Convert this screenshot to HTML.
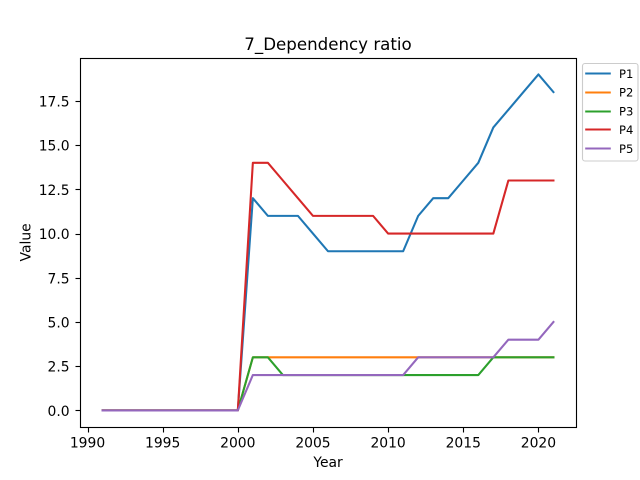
<!DOCTYPE html>
<html>
<head>
<meta charset="utf-8">
<title>7_Dependency ratio</title>
<style>
html,body{margin:0;padding:0;background:#fff;}
svg{display:block;}
text{font-family:"DejaVu Sans",sans-serif;fill:#000;}
</style>
</head>
<body>
<svg id="chart" xmlns="http://www.w3.org/2000/svg" width="640" height="480" viewBox="0 0 640 480">
  <rect x="0" y="0" width="640" height="480" fill="#fff"/>
  <text x="328" y="50" text-anchor="middle" font-size="16.67">7_Dependency ratio</text>
  <g id="series"></g>
  <g id="xticks"></g>
  <g id="yticks"></g>
  <rect x="80.5" y="58.5" width="496" height="369" fill="none" stroke="#000" stroke-width="1.11"/>
  <text x="328" y="467" text-anchor="middle" font-size="13.89">Year</text>
  <text transform="translate(30.5,242.4) rotate(-90)" text-anchor="middle" font-size="13.89">Value</text>
  <g id="legend">
    <rect x="582.5" y="63.5" width="55.5" height="97.5" rx="2.5" fill="#fff" fill-opacity="0.8" stroke="#ccc" stroke-width="1.11"/>
  </g>
</svg>
<script>
var years = [1991,1992,1993,1994,1995,1996,1997,1998,1999,2000,2001,2002,2003,2004,2005,2006,2007,2008,2009,2010,2011,2012,2013,2014,2015,2016,2017,2018,2019,2020,2021];
var seriesNames = ['P1','P2','P3','P4','P5'];
var seriesColors = ['#1f77b4','#ff7f0e','#2ca02c','#d62728','#9467bd'];
var p1Values = [0,0,0,0,0,0,0,0,0,0,12,11,11,11,10,9,9,9,9,9,9,11,12,12,13,14,16,17,18,19,18];
var p2Values = [0,0,0,0,0,0,0,0,0,0,3,3,3,3,3,3,3,3,3,3,3,3,3,3,3,3,3,3,3,3,3];
var p3Values = [0,0,0,0,0,0,0,0,0,0,3,3,2,2,2,2,2,2,2,2,2,2,2,2,2,2,3,3,3,3,3];
var p4Values = [0,0,0,0,0,0,0,0,0,0,14,14,13,12,11,11,11,11,11,10,10,10,10,10,10,10,10,13,13,13,13];
var p5Values = [0,0,0,0,0,0,0,0,0,0,2,2,2,2,2,2,2,2,2,2,2,3,3,3,3,3,3,4,4,4,5];
var xTickValues = [1990,1995,2000,2005,2010,2015,2020];
var yTickValues = [0,2.5,5,7.5,10,12.5,15,17.5];

var NS = 'http://www.w3.org/2000/svg';
var plot = {left:80, right:576, top:57.6, bottom:427.2};
var allSeries = [p1Values,p2Values,p3Values,p4Values,p5Values];

function extent(arr){ return [Math.min.apply(null,arr), Math.max.apply(null,arr)]; }
var xExt = extent(years);
var yExt = extent([].concat.apply([],allSeries));
var xPad = (xExt[1]-xExt[0])*0.05;
var yPad = (yExt[1]-yExt[0])*0.05;
function xScale(v){ return plot.left + (v-(xExt[0]-xPad))/((xExt[1]+xPad)-(xExt[0]-xPad))*(plot.right-plot.left); }
function yScale(v){ return plot.bottom - (v-(yExt[0]-yPad))/((yExt[1]+yPad)-(yExt[0]-yPad))*(plot.bottom-plot.top); }
function snap(v){ return Math.floor(v+0.5)+0.5; }
function make(tag,attrs){
  var el = document.createElementNS(NS,tag);
  for(var k in attrs){ el.setAttribute(k,attrs[k]); }
  return el;
}

var seriesGroup = document.getElementById('series');
allSeries.forEach(function(vals,i){
  var pts = vals.map(function(v,j){ return xScale(years[j]).toFixed(2)+','+yScale(v).toFixed(2); }).join(' ');
  var line = make('polyline',{points:pts,fill:'none',stroke:seriesColors[i],'stroke-width':2.08,'stroke-linejoin':'round','stroke-linecap':'square'});
  
  
  seriesGroup.appendChild(line);
});

var xGroup = document.getElementById('xticks');
xTickValues.forEach(function(t){
  var x = xScale(t);
  var sx = snap(x);
  var mark = make('line',{x1:sx,x2:sx,y1:427.5,y2:432.5,stroke:'#000','stroke-width':1.11});
  
  
  xGroup.appendChild(mark);
  var label = make('text',{x:x,y:plot.bottom+20.4,'text-anchor':'middle','font-size':13.89});
  
  
  label.textContent = String(t);
  xGroup.appendChild(label);
});

var yGroup = document.getElementById('yticks');
yTickValues.forEach(function(t){
  var y = yScale(t);
  var sy = snap(y);
  var mark = make('line',{x1:75.5,x2:80.5,y1:sy,y2:sy,stroke:'#000','stroke-width':1.11});
  
  
  yGroup.appendChild(mark);
  var label = make('text',{x:plot.left-10.4,y:y+5.5,'text-anchor':'end','font-size':13.89});
  
  
  label.textContent = t.toFixed(1);
  yGroup.appendChild(label);
});

var legendGroup = document.getElementById('legend');
seriesNames.forEach(function(name,i){
  var y = 73.2 + i*18.75;
  var sy = snap(y);
  var handle = make('line',{x1:585.2,x2:610.8,y1:sy,y2:sy,stroke:seriesColors[i],'stroke-width':2.08});
  
  
  legendGroup.appendChild(handle);
  var label = make('text',{x:619,y:y+4.7,'font-size':11.57});
  
  
  label.textContent = name;
  legendGroup.appendChild(label);
});
</script>
</body>
</html>
